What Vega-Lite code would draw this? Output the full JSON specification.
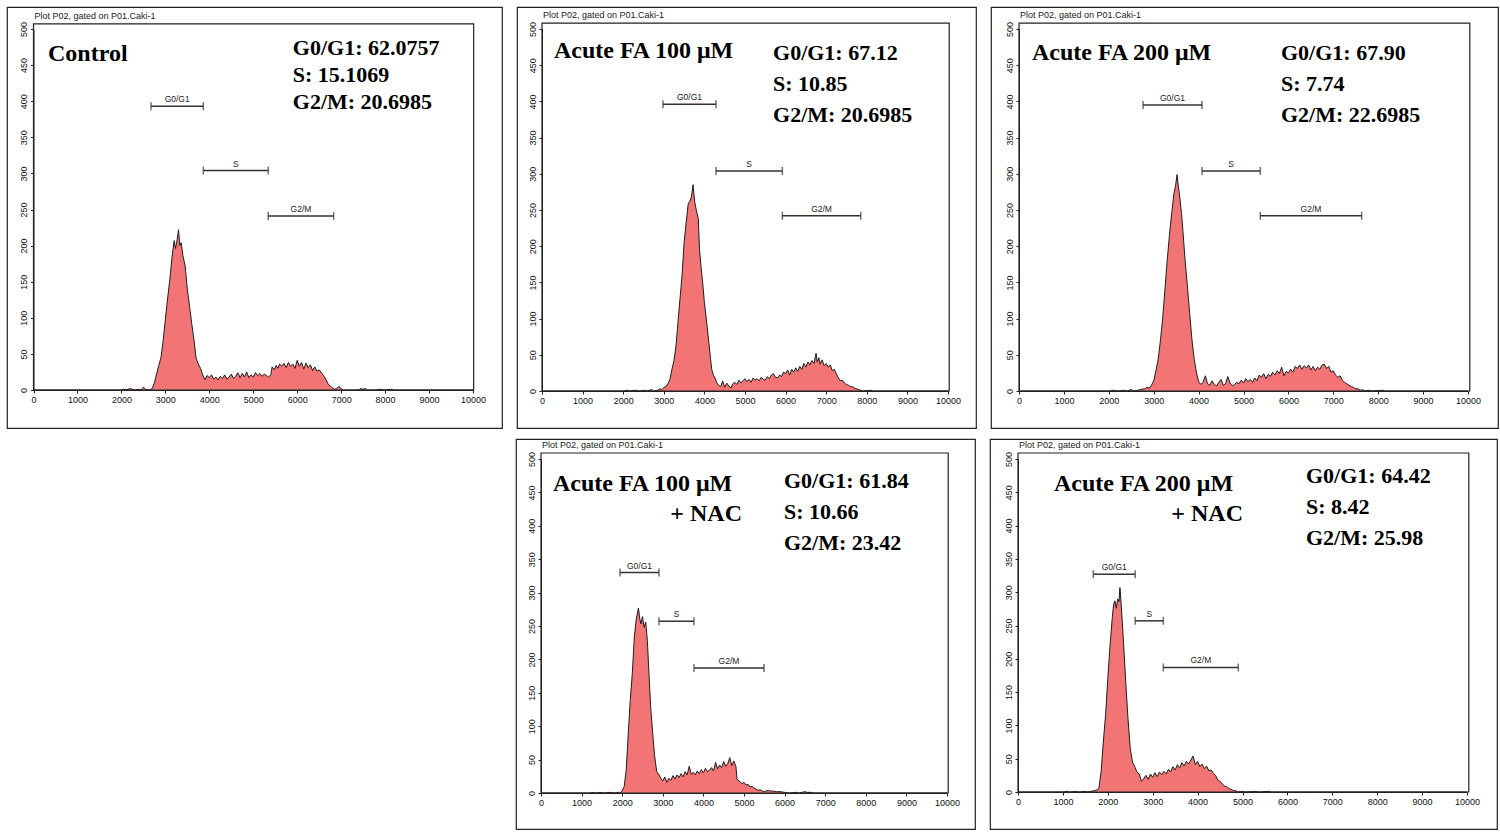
{
  "$schema": "https://vega.github.io/schema/vega-lite/v6.json",
  "padding": {"left": 6, "top": 6, "right": 0, "bottom": 0},
  "background": "white",
  "config": {
    "font": "Liberation Sans",
    "view": {"stroke": "#222", "strokeWidth": 1.2},
    "axis": {"grid": false, "domainColor": "#222", "tickColor": "#222", "labelColor": "#111", "titleColor": "#111", "labelFontSize": 9, "titleFontSize": 9, "titleFontWeight": "normal", "tickSize": 3, "labelPadding": 2, "labelFont": "Liberation Sans", "titleFont": "Liberation Sans", "labelOverlap": false, "labelBound": false, "format": "d"},
    "axisX": {"values": [0,250,500,750,1000,1250,1500,1750,2000,2250,2500,2750,3000,3250,3500,3750,4000,4250,4500,4750,5000,5250,5500,5750,6000,6250,6500,6750,7000,7250,7500,7750,8000,8250,8500,8750,9000,9250,9500,9750,10000], "labelExpr": "datum.value % 1000 == 0 ? datum.label : ''", "labelFlush": false, "title": "Red Fluorescence (RED-HLin)"},
    "axisY": {"values": [0,25,50,75,100,125,150,175,200,225,250,275,300,325,350,375,400,425,450,475,500], "labelExpr": "datum.value % 50 == 0 ? datum.label : ''", "labelAngle": 270, "titlePadding": 2, "title": "Count"}
  },
  "datasets": {
    "hist": [
      {"panel":1,"x":0,"count":0},{"panel":1,"x":2000,"count":0},{"panel":1,"x":2050,"count":1},{"panel":1,"x":2100,"count":0},{"panel":1,"x":2200,"count":2},{"panel":1,"x":2300,"count":0},{"panel":1,"x":2400,"count":1},{"panel":1,"x":2450,"count":0},{"panel":1,"x":2500,"count":4},{"panel":1,"x":2550,"count":1},{"panel":1,"x":2650,"count":0},{"panel":1,"x":2700,"count":2},{"panel":1,"x":2750,"count":10},{"panel":1,"x":2800,"count":22},{"panel":1,"x":2850,"count":34},{"panel":1,"x":2900,"count":45},{"panel":1,"x":2950,"count":68},{"panel":1,"x":3000,"count":98},{"panel":1,"x":3050,"count":126},{"panel":1,"x":3100,"count":152},{"panel":1,"x":3150,"count":183},{"panel":1,"x":3200,"count":207},{"panel":1,"x":3230,"count":196},{"panel":1,"x":3260,"count":205},{"panel":1,"x":3300,"count":222},{"panel":1,"x":3330,"count":200},{"panel":1,"x":3360,"count":204},{"panel":1,"x":3400,"count":186},{"panel":1,"x":3450,"count":172},{"panel":1,"x":3500,"count":140},{"panel":1,"x":3550,"count":116},{"panel":1,"x":3600,"count":92},{"panel":1,"x":3650,"count":70},{"panel":1,"x":3700,"count":44},{"panel":1,"x":3750,"count":36},{"panel":1,"x":3800,"count":30},{"panel":1,"x":3850,"count":21},{"panel":1,"x":3900,"count":14},{"panel":1,"x":3950,"count":20},{"panel":1,"x":4000,"count":17},{"panel":1,"x":4050,"count":21},{"panel":1,"x":4100,"count":15},{"panel":1,"x":4150,"count":18},{"panel":1,"x":4200,"count":14},{"panel":1,"x":4250,"count":19},{"panel":1,"x":4300,"count":16},{"panel":1,"x":4350,"count":21},{"panel":1,"x":4400,"count":15},{"panel":1,"x":4450,"count":18},{"panel":1,"x":4500,"count":22},{"panel":1,"x":4550,"count":16},{"panel":1,"x":4600,"count":19},{"panel":1,"x":4650,"count":24},{"panel":1,"x":4700,"count":17},{"panel":1,"x":4750,"count":23},{"panel":1,"x":4800,"count":18},{"panel":1,"x":4850,"count":25},{"panel":1,"x":4900,"count":17},{"panel":1,"x":4950,"count":21},{"panel":1,"x":5000,"count":18},{"panel":1,"x":5050,"count":24},{"panel":1,"x":5100,"count":20},{"panel":1,"x":5150,"count":23},{"panel":1,"x":5200,"count":19},{"panel":1,"x":5250,"count":22},{"panel":1,"x":5300,"count":20},{"panel":1,"x":5350,"count":18},{"panel":1,"x":5400,"count":21},{"panel":1,"x":5430,"count":32},{"panel":1,"x":5480,"count":28},{"panel":1,"x":5520,"count":34},{"panel":1,"x":5560,"count":30},{"panel":1,"x":5600,"count":36},{"panel":1,"x":5650,"count":33},{"panel":1,"x":5700,"count":37},{"panel":1,"x":5750,"count":31},{"panel":1,"x":5800,"count":38},{"panel":1,"x":5850,"count":33},{"panel":1,"x":5900,"count":36},{"panel":1,"x":5950,"count":30},{"panel":1,"x":6000,"count":41},{"panel":1,"x":6050,"count":33},{"panel":1,"x":6100,"count":38},{"panel":1,"x":6150,"count":29},{"panel":1,"x":6200,"count":37},{"panel":1,"x":6250,"count":31},{"panel":1,"x":6300,"count":35},{"panel":1,"x":6350,"count":27},{"panel":1,"x":6400,"count":32},{"panel":1,"x":6450,"count":26},{"panel":1,"x":6500,"count":28},{"panel":1,"x":6550,"count":24},{"panel":1,"x":6600,"count":20},{"panel":1,"x":6650,"count":15},{"panel":1,"x":6700,"count":9},{"panel":1,"x":6750,"count":5},{"panel":1,"x":6800,"count":3},{"panel":1,"x":6850,"count":1},{"panel":1,"x":6900,"count":2},{"panel":1,"x":6950,"count":5},{"panel":1,"x":7000,"count":2},{"panel":1,"x":7050,"count":0},{"panel":1,"x":7400,"count":0},{"panel":1,"x":7450,"count":2},{"panel":1,"x":7500,"count":1},{"panel":1,"x":7550,"count":2},{"panel":1,"x":7600,"count":0},{"panel":1,"x":7800,"count":0},{"panel":1,"x":7850,"count":1},{"panel":1,"x":8000,"count":0},{"panel":1,"x":8150,"count":1},{"panel":1,"x":8200,"count":0},{"panel":1,"x":10000,"count":0},
      {"panel":2,"x":0,"count":0},{"panel":2,"x":2000,"count":0},{"panel":2,"x":2100,"count":1},{"panel":2,"x":2150,"count":0},{"panel":2,"x":2300,"count":1},{"panel":2,"x":2400,"count":0},{"panel":2,"x":2550,"count":1},{"panel":2,"x":2600,"count":0},{"panel":2,"x":2700,"count":2},{"panel":2,"x":2750,"count":0},{"panel":2,"x":2850,"count":1},{"panel":2,"x":2900,"count":3},{"panel":2,"x":2950,"count":2},{"panel":2,"x":3000,"count":5},{"panel":2,"x":3050,"count":6},{"panel":2,"x":3100,"count":10},{"panel":2,"x":3150,"count":16},{"panel":2,"x":3200,"count":30},{"panel":2,"x":3250,"count":42},{"panel":2,"x":3300,"count":62},{"panel":2,"x":3350,"count":96},{"panel":2,"x":3400,"count":128},{"panel":2,"x":3450,"count":160},{"panel":2,"x":3500,"count":205},{"panel":2,"x":3550,"count":232},{"panel":2,"x":3600,"count":258},{"panel":2,"x":3640,"count":262},{"panel":2,"x":3680,"count":268},{"panel":2,"x":3720,"count":285},{"panel":2,"x":3760,"count":262},{"panel":2,"x":3800,"count":250},{"panel":2,"x":3850,"count":238},{"panel":2,"x":3880,"count":195},{"panel":2,"x":3920,"count":170},{"panel":2,"x":3960,"count":148},{"panel":2,"x":4000,"count":122},{"panel":2,"x":4050,"count":98},{"panel":2,"x":4100,"count":72},{"panel":2,"x":4150,"count":45},{"panel":2,"x":4180,"count":30},{"panel":2,"x":4220,"count":22},{"panel":2,"x":4260,"count":18},{"panel":2,"x":4300,"count":12},{"panel":2,"x":4350,"count":8},{"panel":2,"x":4400,"count":6},{"panel":2,"x":4450,"count":14},{"panel":2,"x":4500,"count":5},{"panel":2,"x":4550,"count":11},{"panel":2,"x":4600,"count":7},{"panel":2,"x":4650,"count":4},{"panel":2,"x":4700,"count":10},{"panel":2,"x":4750,"count":12},{"panel":2,"x":4800,"count":9},{"panel":2,"x":4850,"count":15},{"panel":2,"x":4900,"count":11},{"panel":2,"x":4950,"count":14},{"panel":2,"x":5000,"count":17},{"panel":2,"x":5050,"count":13},{"panel":2,"x":5100,"count":16},{"panel":2,"x":5150,"count":12},{"panel":2,"x":5200,"count":18},{"panel":2,"x":5250,"count":15},{"panel":2,"x":5300,"count":17},{"panel":2,"x":5350,"count":14},{"panel":2,"x":5400,"count":19},{"panel":2,"x":5450,"count":16},{"panel":2,"x":5500,"count":15},{"panel":2,"x":5550,"count":20},{"panel":2,"x":5600,"count":17},{"panel":2,"x":5650,"count":22},{"panel":2,"x":5700,"count":24},{"panel":2,"x":5750,"count":19},{"panel":2,"x":5800,"count":18},{"panel":2,"x":5850,"count":22},{"panel":2,"x":5900,"count":20},{"panel":2,"x":5950,"count":26},{"panel":2,"x":6000,"count":24},{"panel":2,"x":6050,"count":29},{"panel":2,"x":6100,"count":22},{"panel":2,"x":6150,"count":30},{"panel":2,"x":6200,"count":26},{"panel":2,"x":6250,"count":32},{"panel":2,"x":6300,"count":27},{"panel":2,"x":6350,"count":34},{"panel":2,"x":6400,"count":30},{"panel":2,"x":6450,"count":38},{"panel":2,"x":6500,"count":33},{"panel":2,"x":6550,"count":40},{"panel":2,"x":6600,"count":36},{"panel":2,"x":6650,"count":42},{"panel":2,"x":6700,"count":38},{"panel":2,"x":6750,"count":52},{"panel":2,"x":6780,"count":40},{"panel":2,"x":6820,"count":46},{"panel":2,"x":6850,"count":37},{"panel":2,"x":6900,"count":43},{"panel":2,"x":6950,"count":35},{"panel":2,"x":7000,"count":38},{"panel":2,"x":7050,"count":33},{"panel":2,"x":7100,"count":36},{"panel":2,"x":7150,"count":28},{"panel":2,"x":7200,"count":30},{"panel":2,"x":7250,"count":24},{"panel":2,"x":7300,"count":18},{"panel":2,"x":7350,"count":14},{"panel":2,"x":7400,"count":15},{"panel":2,"x":7450,"count":11},{"panel":2,"x":7500,"count":9},{"panel":2,"x":7550,"count":8},{"panel":2,"x":7600,"count":6},{"panel":2,"x":7650,"count":6},{"panel":2,"x":7700,"count":4},{"panel":2,"x":7750,"count":3},{"panel":2,"x":7800,"count":2},{"panel":2,"x":7850,"count":1},{"panel":2,"x":7900,"count":0},{"panel":2,"x":8100,"count":1},{"panel":2,"x":8150,"count":0},{"panel":2,"x":10000,"count":0},
      {"panel":3,"x":0,"count":0},{"panel":3,"x":2000,"count":0},{"panel":3,"x":2100,"count":1},{"panel":3,"x":2200,"count":0},{"panel":3,"x":2350,"count":1},{"panel":3,"x":2400,"count":0},{"panel":3,"x":2500,"count":2},{"panel":3,"x":2550,"count":0},{"panel":3,"x":2650,"count":1},{"panel":3,"x":2700,"count":2},{"panel":3,"x":2800,"count":3},{"panel":3,"x":2850,"count":5},{"panel":3,"x":2900,"count":4},{"panel":3,"x":2950,"count":8},{"panel":3,"x":3000,"count":14},{"panel":3,"x":3050,"count":28},{"panel":3,"x":3100,"count":44},{"panel":3,"x":3150,"count":70},{"panel":3,"x":3200,"count":100},{"panel":3,"x":3250,"count":140},{"panel":3,"x":3300,"count":180},{"panel":3,"x":3350,"count":215},{"panel":3,"x":3400,"count":245},{"panel":3,"x":3450,"count":272},{"panel":3,"x":3490,"count":285},{"panel":3,"x":3520,"count":299},{"panel":3,"x":3550,"count":282},{"panel":3,"x":3580,"count":268},{"panel":3,"x":3620,"count":245},{"panel":3,"x":3650,"count":222},{"panel":3,"x":3700,"count":180},{"panel":3,"x":3750,"count":145},{"panel":3,"x":3800,"count":108},{"panel":3,"x":3850,"count":72},{"panel":3,"x":3900,"count":45},{"panel":3,"x":3950,"count":26},{"panel":3,"x":4000,"count":13},{"panel":3,"x":4050,"count":9},{"panel":3,"x":4100,"count":12},{"panel":3,"x":4150,"count":21},{"panel":3,"x":4200,"count":10},{"panel":3,"x":4250,"count":8},{"panel":3,"x":4300,"count":14},{"panel":3,"x":4350,"count":9},{"panel":3,"x":4400,"count":7},{"panel":3,"x":4450,"count":12},{"panel":3,"x":4500,"count":16},{"panel":3,"x":4550,"count":8},{"panel":3,"x":4600,"count":10},{"panel":3,"x":4650,"count":20},{"panel":3,"x":4700,"count":11},{"panel":3,"x":4750,"count":7},{"panel":3,"x":4800,"count":9},{"panel":3,"x":4850,"count":12},{"panel":3,"x":4900,"count":10},{"panel":3,"x":4950,"count":15},{"panel":3,"x":5000,"count":11},{"panel":3,"x":5050,"count":17},{"panel":3,"x":5100,"count":13},{"panel":3,"x":5150,"count":16},{"panel":3,"x":5200,"count":12},{"panel":3,"x":5250,"count":18},{"panel":3,"x":5300,"count":14},{"panel":3,"x":5350,"count":22},{"panel":3,"x":5400,"count":19},{"panel":3,"x":5450,"count":24},{"panel":3,"x":5500,"count":17},{"panel":3,"x":5550,"count":23},{"panel":3,"x":5600,"count":20},{"panel":3,"x":5650,"count":26},{"panel":3,"x":5700,"count":22},{"panel":3,"x":5750,"count":28},{"panel":3,"x":5800,"count":24},{"panel":3,"x":5850,"count":33},{"panel":3,"x":5900,"count":21},{"panel":3,"x":5950,"count":27},{"panel":3,"x":6000,"count":25},{"panel":3,"x":6050,"count":30},{"panel":3,"x":6100,"count":26},{"panel":3,"x":6150,"count":34},{"panel":3,"x":6200,"count":31},{"panel":3,"x":6250,"count":36},{"panel":3,"x":6300,"count":30},{"panel":3,"x":6350,"count":35},{"panel":3,"x":6400,"count":32},{"panel":3,"x":6450,"count":36},{"panel":3,"x":6500,"count":29},{"panel":3,"x":6550,"count":34},{"panel":3,"x":6600,"count":28},{"panel":3,"x":6650,"count":33},{"panel":3,"x":6700,"count":30},{"panel":3,"x":6750,"count":36},{"panel":3,"x":6800,"count":37},{"panel":3,"x":6850,"count":31},{"panel":3,"x":6900,"count":34},{"panel":3,"x":6950,"count":26},{"panel":3,"x":7000,"count":28},{"panel":3,"x":7050,"count":22},{"panel":3,"x":7100,"count":19},{"panel":3,"x":7150,"count":21},{"panel":3,"x":7200,"count":15},{"panel":3,"x":7250,"count":12},{"panel":3,"x":7300,"count":10},{"panel":3,"x":7350,"count":8},{"panel":3,"x":7400,"count":6},{"panel":3,"x":7450,"count":5},{"panel":3,"x":7500,"count":3},{"panel":3,"x":7550,"count":3},{"panel":3,"x":7600,"count":1},{"panel":3,"x":7650,"count":2},{"panel":3,"x":7700,"count":0},{"panel":3,"x":7800,"count":1},{"panel":3,"x":7850,"count":0},{"panel":3,"x":8100,"count":1},{"panel":3,"x":8150,"count":0},{"panel":3,"x":10000,"count":0},
      {"panel":4,"x":0,"count":0},{"panel":4,"x":1200,"count":0},{"panel":4,"x":1300,"count":1},{"panel":4,"x":1350,"count":0},{"panel":4,"x":1500,"count":1},{"panel":4,"x":1550,"count":0},{"panel":4,"x":1700,"count":1},{"panel":4,"x":1800,"count":0},{"panel":4,"x":1900,"count":1},{"panel":4,"x":1950,"count":0},{"panel":4,"x":2000,"count":3},{"panel":4,"x":2050,"count":10},{"panel":4,"x":2100,"count":35},{"panel":4,"x":2150,"count":90},{"panel":4,"x":2200,"count":140},{"panel":4,"x":2250,"count":180},{"panel":4,"x":2300,"count":235},{"panel":4,"x":2350,"count":262},{"panel":4,"x":2400,"count":277},{"panel":4,"x":2430,"count":262},{"panel":4,"x":2460,"count":253},{"panel":4,"x":2500,"count":264},{"panel":4,"x":2540,"count":248},{"panel":4,"x":2580,"count":256},{"panel":4,"x":2620,"count":228},{"panel":4,"x":2660,"count":178},{"panel":4,"x":2700,"count":130},{"panel":4,"x":2750,"count":90},{"panel":4,"x":2800,"count":55},{"panel":4,"x":2850,"count":32},{"panel":4,"x":2900,"count":28},{"panel":4,"x":2950,"count":22},{"panel":4,"x":3000,"count":18},{"panel":4,"x":3050,"count":24},{"panel":4,"x":3100,"count":16},{"panel":4,"x":3150,"count":22},{"panel":4,"x":3200,"count":19},{"panel":4,"x":3250,"count":26},{"panel":4,"x":3300,"count":21},{"panel":4,"x":3350,"count":27},{"panel":4,"x":3400,"count":23},{"panel":4,"x":3450,"count":29},{"panel":4,"x":3500,"count":24},{"panel":4,"x":3550,"count":32},{"panel":4,"x":3600,"count":27},{"panel":4,"x":3650,"count":40},{"panel":4,"x":3700,"count":28},{"panel":4,"x":3750,"count":31},{"panel":4,"x":3800,"count":27},{"panel":4,"x":3850,"count":33},{"panel":4,"x":3900,"count":29},{"panel":4,"x":3950,"count":35},{"panel":4,"x":4000,"count":30},{"panel":4,"x":4050,"count":37},{"panel":4,"x":4100,"count":32},{"panel":4,"x":4150,"count":34},{"panel":4,"x":4200,"count":38},{"panel":4,"x":4250,"count":33},{"panel":4,"x":4300,"count":46},{"panel":4,"x":4350,"count":36},{"panel":4,"x":4400,"count":42},{"panel":4,"x":4450,"count":38},{"panel":4,"x":4500,"count":47},{"panel":4,"x":4550,"count":40},{"panel":4,"x":4600,"count":44},{"panel":4,"x":4650,"count":53},{"panel":4,"x":4700,"count":41},{"panel":4,"x":4750,"count":48},{"panel":4,"x":4800,"count":40},{"panel":4,"x":4830,"count":20},{"panel":4,"x":4900,"count":17},{"panel":4,"x":4950,"count":14},{"panel":4,"x":5000,"count":16},{"panel":4,"x":5050,"count":12},{"panel":4,"x":5100,"count":13},{"panel":4,"x":5150,"count":9},{"panel":4,"x":5200,"count":10},{"panel":4,"x":5250,"count":7},{"panel":4,"x":5300,"count":6},{"panel":4,"x":5350,"count":4},{"panel":4,"x":5400,"count":5},{"panel":4,"x":5450,"count":3},{"panel":4,"x":5500,"count":2},{"panel":4,"x":5600,"count":4},{"panel":4,"x":5650,"count":3},{"panel":4,"x":5700,"count":3},{"panel":4,"x":5800,"count":2},{"panel":4,"x":5900,"count":2},{"panel":4,"x":6000,"count":1},{"panel":4,"x":6100,"count":0},{"panel":4,"x":6300,"count":1},{"panel":4,"x":6350,"count":0},{"panel":4,"x":6500,"count":2},{"panel":4,"x":6550,"count":1},{"panel":4,"x":6650,"count":1},{"panel":4,"x":6700,"count":0},{"panel":4,"x":10000,"count":0},
      {"panel":5,"x":0,"count":0},{"panel":5,"x":1000,"count":0},{"panel":5,"x":1100,"count":1},{"panel":5,"x":1150,"count":0},{"panel":5,"x":1300,"count":1},{"panel":5,"x":1350,"count":0},{"panel":5,"x":1500,"count":1},{"panel":5,"x":1550,"count":0},{"panel":5,"x":1700,"count":2},{"panel":5,"x":1750,"count":3},{"panel":5,"x":1800,"count":5},{"panel":5,"x":1850,"count":30},{"panel":5,"x":1900,"count":75},{"panel":5,"x":1950,"count":115},{"panel":5,"x":2000,"count":170},{"panel":5,"x":2050,"count":220},{"panel":5,"x":2100,"count":262},{"panel":5,"x":2130,"count":282},{"panel":5,"x":2160,"count":287},{"panel":5,"x":2190,"count":276},{"panel":5,"x":2220,"count":290},{"panel":5,"x":2250,"count":286},{"panel":5,"x":2270,"count":307},{"panel":5,"x":2300,"count":280},{"panel":5,"x":2350,"count":225},{"panel":5,"x":2400,"count":165},{"panel":5,"x":2450,"count":110},{"panel":5,"x":2500,"count":65},{"panel":5,"x":2550,"count":45},{"panel":5,"x":2600,"count":38},{"panel":5,"x":2650,"count":30},{"panel":5,"x":2700,"count":27},{"panel":5,"x":2750,"count":16},{"panel":5,"x":2800,"count":20},{"panel":5,"x":2850,"count":25},{"panel":5,"x":2900,"count":19},{"panel":5,"x":2950,"count":27},{"panel":5,"x":3000,"count":22},{"panel":5,"x":3050,"count":29},{"panel":5,"x":3100,"count":23},{"panel":5,"x":3150,"count":30},{"panel":5,"x":3200,"count":26},{"panel":5,"x":3250,"count":31},{"panel":5,"x":3300,"count":27},{"panel":5,"x":3350,"count":34},{"panel":5,"x":3400,"count":30},{"panel":5,"x":3450,"count":38},{"panel":5,"x":3500,"count":33},{"panel":5,"x":3550,"count":41},{"panel":5,"x":3600,"count":36},{"panel":5,"x":3650,"count":44},{"panel":5,"x":3700,"count":39},{"panel":5,"x":3750,"count":46},{"panel":5,"x":3800,"count":42},{"panel":5,"x":3850,"count":48},{"panel":5,"x":3900,"count":54},{"panel":5,"x":3950,"count":41},{"panel":5,"x":4000,"count":46},{"panel":5,"x":4050,"count":38},{"panel":5,"x":4100,"count":42},{"panel":5,"x":4150,"count":35},{"panel":5,"x":4200,"count":39},{"panel":5,"x":4250,"count":32},{"panel":5,"x":4300,"count":33},{"panel":5,"x":4350,"count":28},{"panel":5,"x":4400,"count":25},{"panel":5,"x":4450,"count":18},{"panel":5,"x":4500,"count":16},{"panel":5,"x":4550,"count":12},{"panel":5,"x":4600,"count":9},{"panel":5,"x":4650,"count":8},{"panel":5,"x":4700,"count":5},{"panel":5,"x":4750,"count":4},{"panel":5,"x":4800,"count":2},{"panel":5,"x":4850,"count":2},{"panel":5,"x":4900,"count":0},{"panel":5,"x":5000,"count":1},{"panel":5,"x":5050,"count":0},{"panel":5,"x":5300,"count":1},{"panel":5,"x":5350,"count":0},{"panel":5,"x":5600,"count":1},{"panel":5,"x":5650,"count":0},{"panel":5,"x":10000,"count":0}
    ],
    "gates": [
      {"panel":1,"gate":"G0/G1","start":2673,"end":3864,"level":393},
      {"panel":1,"gate":"S","start":3864,"end":5342,"level":304},
      {"panel":1,"gate":"G2/M","start":5342,"end":6830,"level":241},
      {"panel":2,"gate":"G0/G1","start":2980,"end":4286,"level":396},
      {"panel":2,"gate":"S","start":4286,"end":5920,"level":304},
      {"panel":2,"gate":"G2/M","start":5920,"end":7850,"level":242},
      {"panel":3,"gate":"G0/G1","start":2762,"end":4076,"level":395},
      {"panel":3,"gate":"S","start":4076,"end":5374,"level":304},
      {"panel":3,"gate":"G2/M","start":5374,"end":7632,"level":242},
      {"panel":4,"gate":"G0/G1","start":1946,"end":2906,"level":330},
      {"panel":4,"gate":"S","start":2906,"end":3768,"level":257},
      {"panel":4,"gate":"G2/M","start":3768,"end":5493,"level":187},
      {"panel":5,"gate":"G0/G1","start":1677,"end":2610,"level":327},
      {"panel":5,"gate":"S","start":2610,"end":3237,"level":257},
      {"panel":5,"gate":"G2/M","start":3237,"end":4907,"level":187}
    ]
  },
  "spacing": 9,
  "vconcat": [
    {
      "spacing": 13,
      "hconcat": [
        {
          "width": 495, "height": 421,
          "layer": [
            {"data": {"name": "hist"}, "transform": [{"filter": "datum.panel == 1"}],
             "mark": {"type": "area", "color": "#f27474", "opacity": 1, "fillOpacity": 1, "line": {"color": "#1e1e1e", "strokeWidth": 1}},
             "encoding": {
               "x": {"field": "x", "type": "quantitative", "scale": {"domain": [0, 10000], "range": [26.5, 466], "nice": false, "zero": false}, "axis": {"offset": -38}},
               "y": {"field": "count", "type": "quantitative", "scale": {"domain": [0, 500], "range": [383, 22], "nice": false}, "axis": {"offset": -26.5}}
             }},
            {"data": {"values": [{}]}, "mark": {"type": "rect", "fill": null, "stroke": "#222", "strokeWidth": 1.2},
             "encoding": {"x": {"datum": 0}, "x2": {"datum": 10015}, "y": {"datum": 0}, "y2": {"datum": 507}}},
            {"data": {"name": "gates"}, "transform": [{"filter": "datum.panel == 1"}], "mark": {"type": "rule", "color": "#333", "strokeWidth": 1.5},
             "encoding": {"x": {"field": "start", "type": "quantitative"}, "x2": {"field": "end"}, "y": {"field": "level", "type": "quantitative"}}},
            {"data": {"name": "gates"}, "transform": [{"filter": "datum.panel == 1"}], "mark": {"type": "tick", "orient": "vertical", "color": "#333", "size": 8, "thickness": 1.5},
             "encoding": {"x": {"field": "start", "type": "quantitative"}, "y": {"field": "level", "type": "quantitative"}}},
            {"data": {"name": "gates"}, "transform": [{"filter": "datum.panel == 1"}], "mark": {"type": "tick", "orient": "vertical", "color": "#333", "size": 8, "thickness": 1.5},
             "encoding": {"x": {"field": "end", "type": "quantitative"}, "y": {"field": "level", "type": "quantitative"}}},
            {"data": {"name": "gates"}, "transform": [{"filter": "datum.panel == 1"}, {"calculate": "(datum.start + datum.end) / 2", "as": "mid"}],
             "mark": {"type": "text", "fontSize": 8.5, "dy": -7, "color": "#222"},
             "encoding": {"x": {"field": "mid", "type": "quantitative"}, "y": {"field": "level", "type": "quantitative"}, "text": {"field": "gate"}}},
            {"data": {"values": [{}]}, "mark": {"type": "text", "text": "Plot P02, gated on P01.Caki-1", "align": "left", "baseline": "middle", "fontSize": 9, "dx": 1, "dy": -8, "color": "#222"},
             "encoding": {"x": {"datum": 0}, "y": {"datum": 507}}},
            {"data": {"values": [{}]}, "mark": {"type": "text", "text": "Control", "align": "left", "baseline": "middle", "font": "Liberation Serif", "fontWeight": "bold", "fontSize": 24, "color": "#000"},
             "encoding": {"x": {"datum": 330}, "y": {"datum": 465}}},
            {"data": {"values": [{}]}, "mark": {"type": "text", "text": ["G0/G1: 62.0757", "S: 15.1069", "G2/M: 20.6985"], "lineHeight": 27, "align": "left", "baseline": "middle", "font": "Liberation Serif", "fontWeight": "bold", "fontSize": 22, "color": "#000"},
             "encoding": {"x": {"datum": 5900}, "y": {"datum": 474}}}
          ]
        },
        {
          "width": 459, "height": 421,
          "layer": [
            {"data": {"name": "hist"}, "transform": [{"filter": "datum.panel == 2"}],
             "mark": {"type": "area", "color": "#f27474", "opacity": 1, "fillOpacity": 1, "line": {"color": "#1e1e1e", "strokeWidth": 1}},
             "encoding": {
               "x": {"field": "x", "type": "quantitative", "scale": {"domain": [0, 10000], "range": [25, 431], "nice": false, "zero": false}, "axis": {"offset": -37}},
               "y": {"field": "count", "type": "quantitative", "scale": {"domain": [0, 500], "range": [384, 22], "nice": false}, "axis": {"offset": -25}}
             }},
            {"data": {"values": [{}]}, "mark": {"type": "rect", "fill": null, "stroke": "#222", "strokeWidth": 1.2},
             "encoding": {"x": {"datum": 0}, "x2": {"datum": 10030}, "y": {"datum": 0}, "y2": {"datum": 508}}},
            {"data": {"name": "gates"}, "transform": [{"filter": "datum.panel == 2"}], "mark": {"type": "rule", "color": "#333", "strokeWidth": 1.5},
             "encoding": {"x": {"field": "start", "type": "quantitative"}, "x2": {"field": "end"}, "y": {"field": "level", "type": "quantitative"}}},
            {"data": {"name": "gates"}, "transform": [{"filter": "datum.panel == 2"}], "mark": {"type": "tick", "orient": "vertical", "color": "#333", "size": 8, "thickness": 1.5},
             "encoding": {"x": {"field": "start", "type": "quantitative"}, "y": {"field": "level", "type": "quantitative"}}},
            {"data": {"name": "gates"}, "transform": [{"filter": "datum.panel == 2"}], "mark": {"type": "tick", "orient": "vertical", "color": "#333", "size": 8, "thickness": 1.5},
             "encoding": {"x": {"field": "end", "type": "quantitative"}, "y": {"field": "level", "type": "quantitative"}}},
            {"data": {"name": "gates"}, "transform": [{"filter": "datum.panel == 2"}, {"calculate": "(datum.start + datum.end) / 2", "as": "mid"}],
             "mark": {"type": "text", "fontSize": 8.5, "dy": -7, "color": "#222"},
             "encoding": {"x": {"field": "mid", "type": "quantitative"}, "y": {"field": "level", "type": "quantitative"}, "text": {"field": "gate"}}},
            {"data": {"values": [{}]}, "mark": {"type": "text", "text": "Plot P02, gated on P01.Caki-1", "align": "left", "baseline": "middle", "fontSize": 9, "dx": 1, "dy": -8, "color": "#222"},
             "encoding": {"x": {"datum": 0}, "y": {"datum": 508}}},
            {"data": {"values": [{}]}, "mark": {"type": "text", "text": "Acute FA 100 μM", "align": "left", "baseline": "middle", "font": "Liberation Serif", "fontWeight": "bold", "fontSize": 24, "color": "#000"},
             "encoding": {"x": {"datum": 296}, "y": {"datum": 470}}},
            {"data": {"values": [{}]}, "mark": {"type": "text", "text": ["G0/G1: 67.12", "S: 10.85", "G2/M: 20.6985"], "lineHeight": 31, "align": "left", "baseline": "middle", "font": "Liberation Serif", "fontWeight": "bold", "fontSize": 22, "color": "#000"},
             "encoding": {"x": {"datum": 5690}, "y": {"datum": 467}}}
          ]
        },
        {
          "width": 507, "height": 421,
          "layer": [
            {"data": {"name": "hist"}, "transform": [{"filter": "datum.panel == 3"}],
             "mark": {"type": "area", "color": "#f27474", "opacity": 1, "fillOpacity": 1, "line": {"color": "#1e1e1e", "strokeWidth": 1}},
             "encoding": {
               "x": {"field": "x", "type": "quantitative", "scale": {"domain": [0, 10000], "range": [28, 477], "nice": false, "zero": false}, "axis": {"offset": -37}},
               "y": {"field": "count", "type": "quantitative", "scale": {"domain": [0, 500], "range": [384, 22], "nice": false}, "axis": {"offset": -28}}
             }},
            {"data": {"values": [{}]}, "mark": {"type": "rect", "fill": null, "stroke": "#222", "strokeWidth": 1.2},
             "encoding": {"x": {"datum": 0}, "x2": {"datum": 10040}, "y": {"datum": 0}, "y2": {"datum": 508}}},
            {"data": {"name": "gates"}, "transform": [{"filter": "datum.panel == 3"}], "mark": {"type": "rule", "color": "#333", "strokeWidth": 1.5},
             "encoding": {"x": {"field": "start", "type": "quantitative"}, "x2": {"field": "end"}, "y": {"field": "level", "type": "quantitative"}}},
            {"data": {"name": "gates"}, "transform": [{"filter": "datum.panel == 3"}], "mark": {"type": "tick", "orient": "vertical", "color": "#333", "size": 8, "thickness": 1.5},
             "encoding": {"x": {"field": "start", "type": "quantitative"}, "y": {"field": "level", "type": "quantitative"}}},
            {"data": {"name": "gates"}, "transform": [{"filter": "datum.panel == 3"}], "mark": {"type": "tick", "orient": "vertical", "color": "#333", "size": 8, "thickness": 1.5},
             "encoding": {"x": {"field": "end", "type": "quantitative"}, "y": {"field": "level", "type": "quantitative"}}},
            {"data": {"name": "gates"}, "transform": [{"filter": "datum.panel == 3"}, {"calculate": "(datum.start + datum.end) / 2", "as": "mid"}],
             "mark": {"type": "text", "fontSize": 8.5, "dy": -7, "color": "#222"},
             "encoding": {"x": {"field": "mid", "type": "quantitative"}, "y": {"field": "level", "type": "quantitative"}, "text": {"field": "gate"}}},
            {"data": {"values": [{}]}, "mark": {"type": "text", "text": "Plot P02, gated on P01.Caki-1", "align": "left", "baseline": "middle", "fontSize": 9, "dx": 1, "dy": -8, "color": "#222"},
             "encoding": {"x": {"datum": 0}, "y": {"datum": 508}}},
            {"data": {"values": [{}]}, "mark": {"type": "text", "text": "Acute FA 200 μM", "align": "left", "baseline": "middle", "font": "Liberation Serif", "fontWeight": "bold", "fontSize": 24, "color": "#000"},
             "encoding": {"x": {"datum": 290}, "y": {"datum": 467}}},
            {"data": {"values": [{}]}, "mark": {"type": "text", "text": ["G0/G1: 67.90", "S: 7.74", "G2/M: 22.6985"], "lineHeight": 31, "align": "left", "baseline": "middle", "font": "Liberation Serif", "fontWeight": "bold", "fontSize": 22, "color": "#000"},
             "encoding": {"x": {"datum": 5835}, "y": {"datum": 467}}}
          ]
        }
      ]
    },
    {
      "spacing": 13,
      "hconcat": [
        {"width": 495, "height": 390, "view": {"stroke": null}, "data": {"values": [{}]}, "mark": {"type": "text", "text": ""}},
        {
          "width": 459, "height": 390,
          "layer": [
            {"data": {"name": "hist"}, "transform": [{"filter": "datum.panel == 4"}],
             "mark": {"type": "area", "color": "#f27474", "opacity": 1, "fillOpacity": 1, "line": {"color": "#1e1e1e", "strokeWidth": 1}},
             "encoding": {
               "x": {"field": "x", "type": "quantitative", "scale": {"domain": [0, 10000], "range": [25, 431], "nice": false, "zero": false}, "axis": {"offset": -36}},
               "y": {"field": "count", "type": "quantitative", "scale": {"domain": [0, 500], "range": [354, 20], "nice": false}, "axis": {"offset": -25}}
             }},
            {"data": {"values": [{}]}, "mark": {"type": "rect", "fill": null, "stroke": "#222", "strokeWidth": 1.2},
             "encoding": {"x": {"datum": 0}, "x2": {"datum": 10030}, "y": {"datum": 0}, "y2": {"datum": 509}}},
            {"data": {"name": "gates"}, "transform": [{"filter": "datum.panel == 4"}], "mark": {"type": "rule", "color": "#333", "strokeWidth": 1.5},
             "encoding": {"x": {"field": "start", "type": "quantitative"}, "x2": {"field": "end"}, "y": {"field": "level", "type": "quantitative"}}},
            {"data": {"name": "gates"}, "transform": [{"filter": "datum.panel == 4"}], "mark": {"type": "tick", "orient": "vertical", "color": "#333", "size": 8, "thickness": 1.5},
             "encoding": {"x": {"field": "start", "type": "quantitative"}, "y": {"field": "level", "type": "quantitative"}}},
            {"data": {"name": "gates"}, "transform": [{"filter": "datum.panel == 4"}], "mark": {"type": "tick", "orient": "vertical", "color": "#333", "size": 8, "thickness": 1.5},
             "encoding": {"x": {"field": "end", "type": "quantitative"}, "y": {"field": "level", "type": "quantitative"}}},
            {"data": {"name": "gates"}, "transform": [{"filter": "datum.panel == 4"}, {"calculate": "(datum.start + datum.end) / 2", "as": "mid"}],
             "mark": {"type": "text", "fontSize": 8.5, "dy": -7, "color": "#222"},
             "encoding": {"x": {"field": "mid", "type": "quantitative"}, "y": {"field": "level", "type": "quantitative"}, "text": {"field": "gate"}}},
            {"data": {"values": [{}]}, "mark": {"type": "text", "text": "Plot P02, gated on P01.Caki-1", "align": "left", "baseline": "middle", "fontSize": 9, "dx": 1, "dy": -8, "color": "#222"},
             "encoding": {"x": {"datum": 0}, "y": {"datum": 509}}},
            {"data": {"values": [{}]}, "mark": {"type": "text", "text": "Acute FA 100 μM", "align": "left", "baseline": "middle", "font": "Liberation Serif", "fontWeight": "bold", "fontSize": 24, "color": "#000"},
             "encoding": {"x": {"datum": 296}, "y": {"datum": 463}}},
            {"data": {"values": [{}]}, "mark": {"type": "text", "text": "+ NAC", "align": "right", "baseline": "middle", "font": "Liberation Serif", "fontWeight": "bold", "fontSize": 24, "color": "#000"},
             "encoding": {"x": {"datum": 4951}, "y": {"datum": 418}}},
            {"data": {"values": [{}]}, "mark": {"type": "text", "text": ["G0/G1: 61.84", "S: 10.66", "G2/M: 23.42"], "lineHeight": 31, "align": "left", "baseline": "middle", "font": "Liberation Serif", "fontWeight": "bold", "fontSize": 22, "color": "#000"},
             "encoding": {"x": {"datum": 5985}, "y": {"datum": 467}}}
          ]
        },
        {
          "width": 507, "height": 390,
          "layer": [
            {"data": {"name": "hist"}, "transform": [{"filter": "datum.panel == 5"}],
             "mark": {"type": "area", "color": "#f27474", "opacity": 1, "fillOpacity": 1, "line": {"color": "#1e1e1e", "strokeWidth": 1}},
             "encoding": {
               "x": {"field": "x", "type": "quantitative", "scale": {"domain": [0, 10000], "range": [28, 477], "nice": false, "zero": false}, "axis": {"offset": -37}},
               "y": {"field": "count", "type": "quantitative", "scale": {"domain": [0, 500], "range": [353, 20], "nice": false}, "axis": {"offset": -28}}
             }},
            {"data": {"values": [{}]}, "mark": {"type": "rect", "fill": null, "stroke": "#222", "strokeWidth": 1.2},
             "encoding": {"x": {"datum": 0}, "x2": {"datum": 10040}, "y": {"datum": 0}, "y2": {"datum": 509}}},
            {"data": {"name": "gates"}, "transform": [{"filter": "datum.panel == 5"}], "mark": {"type": "rule", "color": "#333", "strokeWidth": 1.5},
             "encoding": {"x": {"field": "start", "type": "quantitative"}, "x2": {"field": "end"}, "y": {"field": "level", "type": "quantitative"}}},
            {"data": {"name": "gates"}, "transform": [{"filter": "datum.panel == 5"}], "mark": {"type": "tick", "orient": "vertical", "color": "#333", "size": 8, "thickness": 1.5},
             "encoding": {"x": {"field": "start", "type": "quantitative"}, "y": {"field": "level", "type": "quantitative"}}},
            {"data": {"name": "gates"}, "transform": [{"filter": "datum.panel == 5"}], "mark": {"type": "tick", "orient": "vertical", "color": "#333", "size": 8, "thickness": 1.5},
             "encoding": {"x": {"field": "end", "type": "quantitative"}, "y": {"field": "level", "type": "quantitative"}}},
            {"data": {"name": "gates"}, "transform": [{"filter": "datum.panel == 5"}, {"calculate": "(datum.start + datum.end) / 2", "as": "mid"}],
             "mark": {"type": "text", "fontSize": 8.5, "dy": -7, "color": "#222"},
             "encoding": {"x": {"field": "mid", "type": "quantitative"}, "y": {"field": "level", "type": "quantitative"}, "text": {"field": "gate"}}},
            {"data": {"values": [{}]}, "mark": {"type": "text", "text": "Plot P02, gated on P01.Caki-1", "align": "left", "baseline": "middle", "fontSize": 9, "dx": 1, "dy": -8, "color": "#222"},
             "encoding": {"x": {"datum": 0}, "y": {"datum": 509}}},
            {"data": {"values": [{}]}, "mark": {"type": "text", "text": "Acute FA 200 μM", "align": "left", "baseline": "middle", "font": "Liberation Serif", "fontWeight": "bold", "fontSize": 24, "color": "#000"},
             "encoding": {"x": {"datum": 802}, "y": {"datum": 462}}},
            {"data": {"values": [{}]}, "mark": {"type": "text", "text": "+ NAC", "align": "right", "baseline": "middle", "font": "Liberation Serif", "fontWeight": "bold", "fontSize": 24, "color": "#000"},
             "encoding": {"x": {"datum": 5011}, "y": {"datum": 417}}},
            {"data": {"values": [{}]}, "mark": {"type": "text", "text": ["G0/G1: 64.42", "S: 8.42", "G2/M: 25.98"], "lineHeight": 31, "align": "left", "baseline": "middle", "font": "Liberation Serif", "fontWeight": "bold", "fontSize": 22, "color": "#000"},
             "encoding": {"x": {"datum": 6414}, "y": {"datum": 474}}}
          ]
        }
      ]
    }
  ]
}
